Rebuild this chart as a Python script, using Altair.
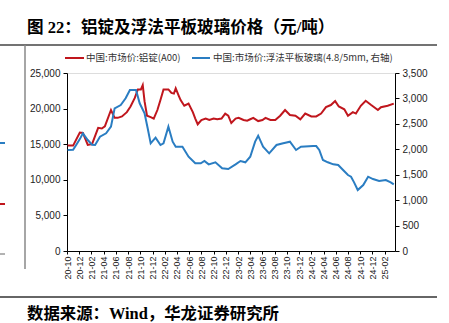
import json
import altair as alt
import pandas as pd

# ---- data (month index: 0 = 2020-10) ----
x_labels = ["20-10", "20-12", "21-02", "21-04", "21-06", "21-08", "21-10", "21-12",
            "22-02", "22-04", "22-06", "22-08", "22-10", "22-12", "23-02", "23-04",
            "23-06", "23-08", "23-10", "23-12", "24-02", "24-04", "24-06", "24-08",
            "24-10", "24-12", "25-02"]

al_month = [0.1, 1.0, 2.1, 2.6, 3.4, 4.1, 5.1, 5.7, 6.2, 7.2, 7.8, 8.3, 9.0, 9.8, 10.4,
            11.1, 11.6, 12.1, 12.4, 12.7, 13.1, 13.7, 14.2, 14.8, 15.3, 15.8, 16.6,
            17.1, 17.5, 17.8, 18.3, 18.6, 19.2, 19.9, 20.6, 21.0, 21.4, 22.0, 22.7,
            23.3, 24.0, 24.6, 25.3, 25.9, 26.4, 26.9, 27.6, 28.1, 28.9, 29.5, 30.0,
            30.5, 31.3, 32.0, 32.5, 33.3, 34.1, 34.9, 35.7, 36.5, 37.4, 38.2, 39.0,
            40.0, 40.8, 41.6, 42.4, 43.2, 43.9, 44.5, 45.4, 46.0, 46.8, 47.3, 48.1,
            48.9, 49.8, 50.9, 51.4, 52.5, 53.5]
al_price = [14800, 14800, 16650, 16600, 14900, 15000, 17300, 17200, 17500, 19800,
            18700, 18700, 18900, 19500, 20300, 21500, 22700, 22700, 23300, 21000,
            19000, 18800, 18600, 19800, 21200, 22700, 22700, 22200, 22100, 22850,
            21800, 21200, 20400, 20700, 19500, 18600, 17800, 18400, 18600, 18400,
            18600, 18500, 18600, 19300, 19000, 17970, 18600, 18700, 18400, 18300,
            18500, 18700, 18250, 18400, 18700, 18400, 18400, 19000, 19800, 19100,
            19000, 18500, 19300, 18900, 18900, 19300, 20200, 20500, 21050, 20300,
            19900, 19000, 19500, 19300, 20400, 21100, 20500, 19800, 20200, 20400,
            20700]

gl_month = [0.1, 1.0, 1.5, 2.1, 2.6, 3.4, 4.1, 4.6, 5.4, 6.4, 7.2, 7.8, 8.8, 9.6,
            10.3, 11.3, 11.9, 12.7, 13.2, 13.7, 14.5, 15.3, 15.8, 16.6, 17.3, 17.8,
            18.9, 19.9, 21.0, 21.9, 22.5, 23.2, 24.3, 25.4, 26.4, 27.6, 28.4, 29.2,
            30.0, 30.8, 31.3, 32.1, 33.1, 34.3, 35.4, 36.5, 37.5, 38.3, 40.3, 40.8,
            41.3, 41.9, 42.7, 43.6, 44.4, 45.2, 46.0, 46.5, 47.0, 47.6, 48.5, 49.3,
            50.1, 51.1, 52.2, 53.0, 53.5]
gl_price = [1986, 1990, 2084, 2200, 2314, 2182, 2090, 2084, 2247, 2314, 2444, 2805,
            2870, 3002, 3165, 3165, 2904, 2707, 2418, 2117, 2228, 2084, 2117, 2444,
            2150, 2051, 2051, 1854, 1724, 1724, 1770, 1704, 1744, 1626, 1612, 1704,
            1770, 1744, 1854, 2150, 2267, 2051, 1920, 2084, 2117, 2150, 1986, 2051,
            2064, 2064, 1986, 1789, 1744, 1704, 1690, 1592, 1494, 1461, 1350, 1199,
            1297, 1461, 1415, 1376, 1396, 1350, 1311]

series_names = ["中国:市场价:铝锭(A00)", "中国:市场价:浮法平板玻璃(4.8/5mm, 右轴)"]
series_colors = ["#C0161D", "#2A7DC2"]

title_text = "图 22：铝锭及浮法平板玻璃价格（元/吨）"
source_text = "数据来源：Wind，华龙证券研究所"

al_df = pd.DataFrame({"m": al_month, "v": al_price})
gl_df = pd.DataFrame({"m": gl_month, "v": gl_price})

AXF = "Liberation Sans"
CJK = "Liberation Serif, Noto Sans CJK SC"
LEG = "Noto Sans CJK SC"

label_expr = json.dumps(x_labels) + "[round(datum.value / 2)]"

x_enc = alt.X("m:Q",
              scale=alt.Scale(domain=[0, 53.7], nice=False, zero=False),
              axis=alt.Axis(values=list(range(0, 53, 2)), labelExpr=label_expr,
                            labelAngle=-90, labelFont=AXF, labelFontSize=9,
                            labelColor="#222", tickColor="#000", tickSize=3,
                            domainColor="#000", grid=False, title=None,
                            labelPadding=2, labelOverlap=False))

red = alt.Chart(al_df).mark_line(color=series_colors[0], strokeWidth=2).encode(
    x=x_enc,
    y=alt.Y("v:Q", scale=alt.Scale(domain=[0, 25000], nice=False),
            axis=alt.Axis(values=list(range(0, 25001, 5000)), format=",d",
                          labelFont=AXF, labelFontSize=10, labelColor="#222",
                          tickColor="#000", tickSize=4, domainColor="#000",
                          grid=False, title=None, labelPadding=3)))

blue = alt.Chart(gl_df).mark_line(color=series_colors[1], strokeWidth=2).encode(
    x=x_enc,
    y=alt.Y("v:Q", scale=alt.Scale(domain=[0, 3500], nice=False),
            axis=alt.Axis(orient="right", values=list(range(0, 3501, 500)), format=",d",
                          labelFont=AXF, labelFontSize=10, labelColor="#222",
                          tickColor="#000", tickSize=4, domainColor="#000",
                          grid=False, title=None, labelPadding=3)))

base = alt.Chart(pd.DataFrame({"a": [0]}))

def hrule(x1, x2, y, color, w):
    return base.mark_rule(color=color, strokeWidth=w).encode(
        x=alt.value(x1), x2=alt.value(x2), y=alt.value(y))

def txt(s, x, y, size, font, weight="normal", color="#000", baseline="alphabetic"):
    return base.mark_text(text=s, align="left", baseline=baseline, fontSize=size,
                          font=font, fontWeight=weight, color=color).encode(
        x=alt.value(x), y=alt.value(y))

deco = [
    txt(title_text, -40, -40, 16.6, CJK, "bold"),
    hrule(-67, 370, -28, "#444", 1.5),
    base.mark_rule(color="#888", strokeWidth=1.5).encode(
        x=alt.value(-42), y=alt.value(-28), y2=alt.value(196)),
    hrule(-67, -62, 70, series_colors[1], 2),
    hrule(-67, -62, 131, series_colors[0], 2),
    hrule(-67, -62, 181, "#666", 1),
    hrule(-2, 17, -15, series_colors[0], 2),
    txt(series_names[0], 19, -15, 9.5, LEG, color="#333", baseline="middle"),
    hrule(125, 143, -15, series_colors[1], 2),
    txt(series_names[1], 146, -15, 9.5, LEG, color="#333", baseline="middle"),
    hrule(-67, 370, 224, "#333", 1.5),
    txt(source_text, -40, 246, 16.4, CJK, "bold"),
]

chart = alt.layer(red, blue, *deco).resolve_scale(y="independent").properties(
    width=328, height=178,
    padding={"left": 67, "top": 73, "right": 54, "bottom": 72},
    autosize=alt.AutoSizeParams(type="none"),
).configure_view(stroke=None).configure(background="white")

chart.save("out.html", embed_options={"renderer": "svg", "actions": False})
